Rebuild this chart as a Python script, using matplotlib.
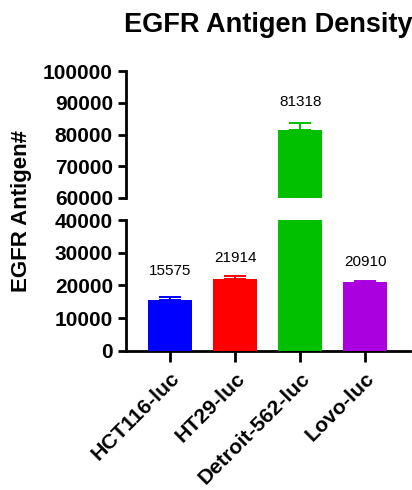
import matplotlib
matplotlib.use("Agg")
import matplotlib.pyplot as plt
import numpy as np

plt.rcParams['font.family'] = ['Liberation Sans', 'DejaVu Sans']

cells = ['HCT116-luc', 'HT29-luc', 'Detroit-562-luc', 'Lovo-luc']
means = [15575, 21914, 81318, 20910]
errs = [800, 850, 2300, 400]
colors = ['#0000ff', '#ff0000', '#00c000', '#aa00e0']
lab_off = [14, 8, 10, 9]   # label offset above error bar (points)

x = np.arange(len(cells))

fig = plt.figure(figsize=(4.12, 4.9), dpi=100)
ax_top = fig.add_axes([0.306, 0.596, 0.689, 0.259])
ax_bot = fig.add_axes([0.306, 0.284, 0.689, 0.267])

for ax in (ax_top, ax_bot):
    ax.bar(x, means, width=0.68, color=colors, zorder=3)
    for i in range(len(x)):
        ax.errorbar(x[i], means[i], yerr=[[0], [errs[i]]], color=colors[i],
                    capsize=8, elinewidth=1.4, capthick=1.4, zorder=2)
    ax.set_xlim(-0.68, 3.69)
    for s in ['top', 'right']:
        ax.spines[s].set_visible(False)
    ax.spines['left'].set_linewidth(2)
    ax.spines['bottom'].set_linewidth(2)
    ax.tick_params(axis='y', direction='out', length=6, width=2, labelsize=15)

ax_top.set_ylim(60000, 100000)
ax_top.set_yticks(np.arange(60000, 100001, 10000))
ax_top.spines['bottom'].set_visible(False)
ax_top.set_xticks([])
ax_top.set_yticks([60000], minor=True)
ax_top.tick_params(axis='y', which='minor', direction='in', length=6, width=2)

ax_bot.set_ylim(0, 40000)
ax_bot.set_yticks(np.arange(0, 40001, 10000))
ax_bot.set_yticks([40000], minor=True)
ax_bot.tick_params(axis='y', which='minor', direction='in', length=6, width=2)
ax_bot.set_xticks(x)
ax_bot.set_xticklabels(cells, rotation=45, ha='right', rotation_mode='anchor',
                       fontsize=15.3, fontweight='bold')
ax_bot.tick_params(axis='x', direction='out', length=8, width=2, pad=5)

for ax in (ax_top, ax_bot):
    for t in ax.get_yticklabels():
        t.set_fontweight('bold')

for i in range(len(x)):
    ax = ax_top if means[i] > 60000 else ax_bot
    ax.annotate(str(means[i]), xy=(x[i], means[i] + errs[i]),
                xytext=(0, lab_off[i]), textcoords='offset points',
                ha='center', va='bottom', fontsize=11, annotation_clip=False)

ax_top.set_title('EGFR Antigen Density', fontsize=19.5, fontweight='bold', pad=28)
fig.text(0.053, 0.569, 'EGFR Antigen#', rotation=90, ha='center', va='center',
         fontsize=16, fontweight='bold')

fig.savefig('out.png', dpi=100)
